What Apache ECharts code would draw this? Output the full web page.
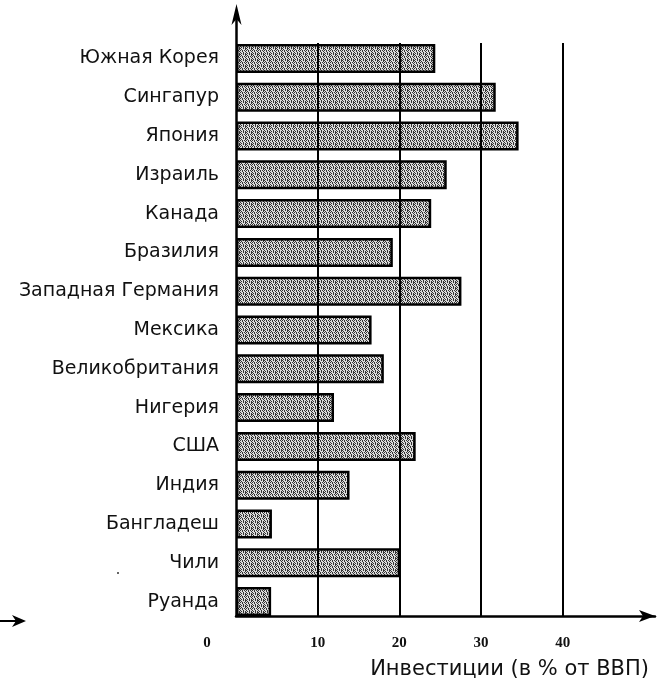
<!DOCTYPE html>
<html><head><meta charset="utf-8">
<script src="https://cdn.jsdelivr.net/npm/echarts@6/dist/echarts.min.js"></script>
<style>html,body{margin:0;padding:0;background:#fff}#c{width:661px;height:682px}</style>
</head><body><div id="c"></div>
<script>
const categories = ['Южная Корея','Сингапур','Япония','Израиль','Канада','Бразилия','Западная Германия','Мексика','Великобритания','Нигерия','США','Индия','Бангладеш','Чили','Руанда'];
const investment = [24.4, 31.8, 34.6, 25.8, 23.9, 19.2, 27.6, 16.6, 18.1, 12.0, 22.0, 13.9, 4.4, 20.1, 4.3];
const gridValues = [10, 20, 30, 40];
const tickLabels = ['0', '10', '20', '30', '40'];
const axisTitle = 'Инвестиции (в % от ВВП)';

// dotted gray texture for bars
const pat = document.createElement('canvas');
pat.width = 6; pat.height = 6;
const g = pat.getContext('2d');
g.fillStyle = '#dcdcdc'; g.fillRect(0, 0, 6, 6);
const rows = ['x..x.x', '.x...x', 'x.x.x.', '..x..x', 'x..x..', '.x.x.x'];
g.fillStyle = '#333';
rows.forEach((r, y) => { for (let x = 0; x < r.length; x++) if (r[x] === 'x') g.fillRect(x, y, 1, 1); });

const chart = echarts.init(document.getElementById('c'), null, {renderer: 'canvas'});
const serif = 'Liberation Serif';
const sans = 'DejaVu Sans';
const axisY = 616;   // drawn position of the horizontal axis line
const lineTop = 43;  // top end of the vertical grid lines
chart.setOption({
  animation: false,
  backgroundColor: '#fff',
  title: {
    text: axisTitle, right: 7, top: 654,
    textStyle: {fontFamily: sans, fontSize: 21, fontWeight: 'normal', color: '#111'}
  },
  grid: {left: 236, right: 6, top: 39, bottom: 61, containLabel: false},
  xAxis: {
    type: 'value', min: 0, max: 51.3, interval: 10, offset: -5,
    splitLine: {show: false}, axisTick: {show: false},
    axisLine: {show: true, lineStyle: {color: '#000', width: 2.5}, symbol: ['none', 'arrow'], symbolSize: [9, 16]},
    axisLabel: {
      margin: 20, color: '#111', fontFamily: serif, fontWeight: 'bold', fontSize: 15,
      showMaxLabel: false,
      formatter: v => {
        const s = String(v);
        if (v === 0) return '{z|' + tickLabels[0] + '}';
        return tickLabels.indexOf(s) >= 0 ? s : '';
      },
      rich: {z: {padding: [0, 58, 0, 0], fontFamily: serif, fontWeight: 'bold', fontSize: 15, color: '#111'}}
    }
  },
  yAxis: {
    type: 'category', data: categories, inverse: true,
    axisTick: {show: false},
    axisLine: {show: false},
    axisLabel: {margin: 17, color: '#111', fontFamily: sans, fontSize: 19}
  },
  graphic: [
    {type: 'line', shape: {x1: 236.5, y1: axisY + 1, x2: 236.5, y2: 12}, style: {stroke: '#000', lineWidth: 2.5}, z: 10},
    {type: 'polygon', shape: {points: [[236.5, 4], [231.5, 25], [236.5, 19], [241.5, 25]]}, style: {fill: '#000'}, z: 10},
    {type: 'line', shape: {x1: 0, y1: 621, x2: 20, y2: 621}, style: {stroke: '#000', lineWidth: 2}},
    {type: 'polygon', shape: {points: [[26, 621], [12, 615], [16, 621], [12, 627]]}, style: {fill: '#000'}},
    {type: 'circle', shape: {cx: 118, cy: 573, r: 1}, style: {fill: '#333'}}
  ],
  series: [{
    type: 'bar', data: investment, barWidth: 29,
    itemStyle: {color: {image: pat, repeat: 'repeat'}, borderColor: '#000', borderWidth: 2.5},
    markLine: {
      silent: true, symbol: 'none', label: {show: false},
      lineStyle: {color: '#000', width: 2, type: 'solid'},
      data: gridValues.map(v => [{xAxis: v, y: lineTop}, {xAxis: v, y: axisY}])
    },
    z: 3
  }]
});
</script></body></html>
